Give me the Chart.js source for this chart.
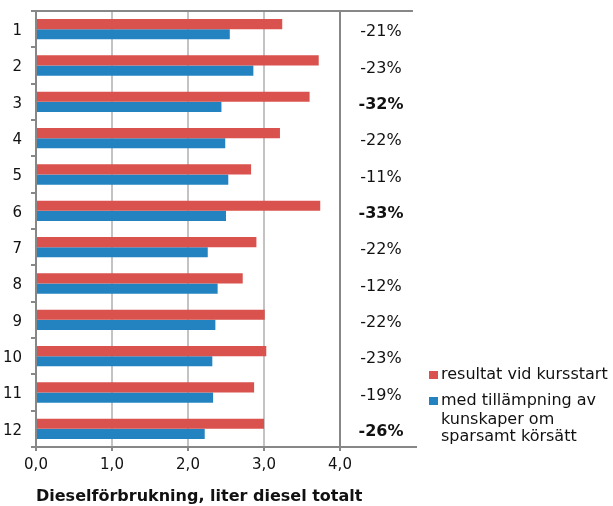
<!DOCTYPE html>
<html lang="sv">
<head>
<meta charset="utf-8">
<title>Dieselförbrukning</title>
<script src="https://cdn.jsdelivr.net/npm/chart.js@4/dist/chart.umd.min.js"></script>
<style>
  html, body { margin: 0; padding: 0; background: #ffffff; }
  #wrap { position: relative; width: 613px; height: 506px; }
</style>
</head>
<body>
<div id="wrap"><canvas id="chart" width="613" height="506"></canvas></div>
<script>
// Förare 1–12
const categories = ['1', '2', '3', '4', '5', '6', '7', '8', '9', '10', '11', '12'];

// Liter diesel totalt, före och efter kursen
const startValues = [3.24, 3.72, 3.60, 3.21, 2.83, 3.74, 2.90, 2.72, 3.01, 3.03, 2.87, 3.00];
const afterValues = [2.55, 2.86, 2.44, 2.49, 2.53, 2.50, 2.26, 2.39, 2.36, 2.32, 2.33, 2.22];

// Förändring per förare
const changeLabels = ['-21%', '-23%', '-32%', '-22%', '-11%', '-33%', '-22%', '-12%', '-22%', '-23%', '-19%', '-26%'];
const changeBold = [false, false, true, false, false, true, false, false, false, false, false, true];

const seriesNames = ['resultat vid kursstart', 'med tillämpning av kunskaper om sparsamt körsätt'];
const legendLines = [['resultat vid kursstart'], ['med tillämpning av', 'kunskaper om', 'sparsamt körsätt']];

const xTicks = [0, 1, 2, 3, 4];

const FONT = '"DejaVu Sans", Verdana, sans-serif';
const RED = '#da524e';
const BLUE = '#2383c1';
const AXIS = '#878787';

// Top frame line
const frameTop = {
  id: 'frameTop',
  beforeDatasetsDraw(chart) {
    const { ctx, chartArea } = chart;
    const x = chart.scales.x;
    ctx.save();
    ctx.strokeStyle = AXIS;
    ctx.lineWidth = 2;
    ctx.beginPath();
    ctx.moveTo(chartArea.left - 1, chartArea.top);
    ctx.lineTo(x.getPixelForValue(4.96), chartArea.top);
    ctx.stroke();
    ctx.restore();
  }
};

// Percentage change column to the right of 4,0
const changeColumn = {
  id: 'changeColumn',
  afterDatasetsDraw(chart) {
    const { ctx } = chart;
    const x = chart.scales.x, y = chart.scales.y;
    ctx.save();
    ctx.fillStyle = '#111111';
    ctx.textAlign = 'center';
    ctx.textBaseline = 'middle';
    changeLabels.forEach((t, i) => {
      ctx.font = (changeBold[i] ? 'bold ' : '') + '16px ' + FONT;
      ctx.fillText(t, x.getPixelForValue(4.5) + 3, y.getPixelForValue(i) + 3);
    });
    ctx.restore();
  }
};

// Legend in the lower right
const sideLegend = {
  id: 'sideLegend',
  afterDraw(chart) {
    const { ctx } = chart;
    const colors = [RED, BLUE];
    const rows = [[375], [401, 420, 437]];
    ctx.save();
    ctx.font = '16px ' + FONT;
    ctx.textAlign = 'left';
    ctx.textBaseline = 'middle';
    legendLines.forEach((lines, k) => {
      ctx.fillStyle = colors[k];
      ctx.fillRect(429, rows[k][0] - 4, 9, 8);
      ctx.fillStyle = '#111111';
      lines.forEach((line, j) => {
        ctx.fillText(line, 441, rows[k][j]);
      });
    });
    ctx.restore();
  }
};

new Chart(document.getElementById('chart'), {
  type: 'bar',
  data: {
    labels: categories,
    datasets: [
      {
        label: seriesNames[0],
        data: startValues,
        backgroundColor: RED,
        borderWidth: 0,
        categoryPercentage: 0.56,
        barPercentage: 1.0
      },
      {
        label: seriesNames[1],
        data: afterValues,
        backgroundColor: BLUE,
        borderWidth: 0,
        categoryPercentage: 0.56,
        barPercentage: 1.0
      }
    ]
  },
  options: {
    indexAxis: 'y',
    responsive: false,
    animation: false,
    layout: { padding: { top: 11, right: 197, left: 0, bottom: 0 } },
    plugins: {
      legend: { display: false },
      tooltip: { enabled: false },
      title: { display: false }
    },
    scales: {
      x: {
        type: 'linear',
        min: 0,
        max: 5,
        afterBuildTicks(scale) {
          scale.ticks = xTicks.concat([5]).map(v => ({ value: v }));
        },
        afterFit(scale) {
          scale.height = 59;
          scale.paddingLeft = 0;
          scale.paddingRight = 0;
        },
        ticks: {
          color: '#111111',
          font: { family: FONT, size: 15 },
          padding: 5,
          maxRotation: 0,
          callback: (v) => (v === 5 ? '' : v.toFixed(1).replace('.', ','))
        },
        grid: {
          drawTicks: true,
          tickLength: 4,
          tickColor: (c) => (c.tick && c.tick.value === 5 ? 'rgba(0,0,0,0)' : AXIS),
          lineWidth: 2,
          color: (c) => {
            const v = c.tick ? c.tick.value : null;
            if (v === 4) return AXIS;
            if (v === 0 || v === 5) return 'rgba(0,0,0,0)';
            return '#c3c3c3';
          }
        },
        border: { display: true, color: AXIS, width: 2 },
        title: {
          display: true,
          text: 'Dieselförbrukning, liter diesel totalt',
          align: 'start',
          color: '#111111',
          font: { family: FONT, size: 16, weight: 'bold' },
          padding: { top: 0, bottom: 0 }
        }
      },
      y: {
        type: 'category',
        offset: true,
        afterFit(scale) {
          scale.width = 36;
          scale.paddingTop = 0;
          scale.paddingBottom = 0;
        },
        ticks: {
          color: '#111111',
          font: { family: FONT, size: 15 },
          padding: 9,
          labelOffset: 2
        },
        grid: {
          offset: true,
          drawOnChartArea: false,
          drawTicks: true,
          tickLength: 5,
          color: AXIS,
          lineWidth: 2
        },
        border: { display: true, color: AXIS, width: 2 }
      }
    }
  },
  plugins: [frameTop, changeColumn, sideLegend]
});
</script>
</body>
</html>
